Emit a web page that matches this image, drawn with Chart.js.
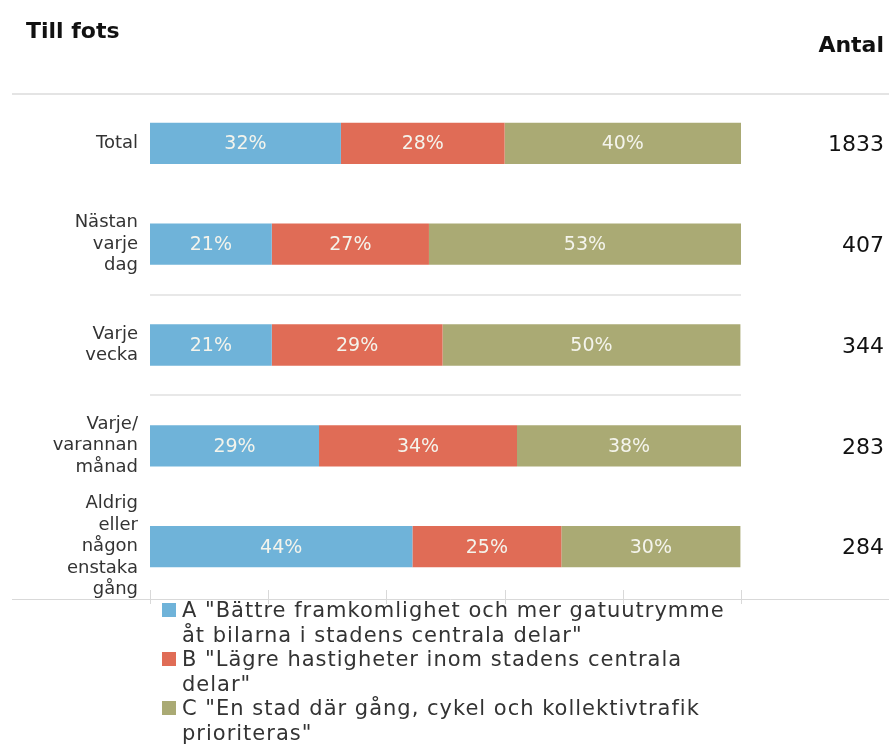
<!DOCTYPE html>
<html>
<head>
<meta charset="utf-8">
<script src="https://cdn.jsdelivr.net/npm/chart.js@4/dist/chart.umd.min.js"></script>
<style>
  body { margin: 0; background: #fff; font-family: "DejaVu Sans", sans-serif; }
  #wrap { position: relative; width: 889px; height: 747px; }
  #legend { position: absolute; left: 162px; top: 598px; color: #333; font-size: 21px; line-height: 24.5px; letter-spacing: 1px; }
  .item { display: flex; align-items: flex-start; }
  .sw { width: 14px; height: 14px; margin: 5px 6px 0 0; flex: none; }
  .txt { white-space: nowrap; }
</style>
</head>
<body>
<div id="wrap">
  <canvas id="myChart" width="889" height="747"></canvas>
  <div id="legend"></div>
</div>
<script>
const categories = [
    'Total',
    ['Nästan', 'varje', 'dag'],
    ['Varje', 'vecka'],
    ['Varje/', 'varannan', 'månad'],
    ['Aldrig', 'eller', 'någon', 'enstaka', 'gång']
];
const seriesA = [32.3, 20.6, 20.6, 28.6, 44.4];
const seriesB = [27.7, 26.6, 28.9, 33.5, 25.2];
const seriesC = [40.0, 52.8, 50.4, 37.9, 30.3];
const antal = [1833, 407, 344, 283, 284];
const seriesNames = [
    ['A "Bättre framkomlighet och mer gatuutrymme', 'åt bilarna i stadens centrala delar"'],
    ['B "Lägre hastigheter inom stadens centrala', 'delar"'],
    ['C "En stad där gång, cykel och kollektivtrafik', 'prioriteras"']
];
const colors = ['#6fb3d9', '#e06c56', '#aaaa74'];

const extras = {
    id: 'extras',
    afterDraw(chart) {
        const c = chart.ctx;
        const x = chart.scales.x;
        const y = chart.scales.y;
        c.save();
        // titles
        c.fillStyle = '#111';
        c.font = 'bold 22px "DejaVu Sans"';
        c.textBaseline = 'alphabetic';
        c.textAlign = 'left';
        c.fillText('Till fots', 26, 38);
        c.textAlign = 'right';
        c.fillText('Antal', 884, 52);
        // full width lines
        c.strokeStyle = '#e4e4e4';
        c.lineWidth = 2;
        c.beginPath(); c.moveTo(12, 94); c.lineTo(889, 94); c.stroke();
        c.strokeStyle = '#d9d9d9';
        c.lineWidth = 1;
        c.beginPath(); c.moveTo(12, 599.5); c.lineTo(889, 599.5); c.stroke();
        // x tick marks
        x.ticks.forEach(t => {
            const px = Math.round(x.getPixelForValue(t.value)) + 0.5;
            c.beginPath(); c.moveTo(px, 590); c.lineTo(px, 604); c.stroke();
        });
        // segment labels
        c.font = '19px "DejaVu Sans"';
        c.fillStyle = '#f4f4ec';
        c.textAlign = 'center';
        c.textBaseline = 'middle';
        chart.data.datasets.forEach((ds, i) => {
            chart.getDatasetMeta(i).data.forEach((bar, j) => {
                const cx = (bar.x + bar.base) / 2;
                c.fillText(Math.round(ds.data[j]) + '%', cx, bar.y + 1);
            });
        });
        // antal
        c.font = '22px "DejaVu Sans"';
        c.fillStyle = '#111';
        c.textAlign = 'right';
        antal.forEach((n, j) => {
            c.fillText(String(n), 884, y.getPixelForValue(j) + 2);
        });
        c.restore();
    }
};

const ctx = document.getElementById('myChart').getContext('2d');
const myChart = new Chart(ctx, {
    type: 'bar',
    data: {
        labels: categories,
        datasets: [
            { label: seriesNames[0].join(' '), data: seriesA, backgroundColor: colors[0] },
            { label: seriesNames[1].join(' '), data: seriesB, backgroundColor: colors[1] },
            { label: seriesNames[2].join(' '), data: seriesC, backgroundColor: colors[2] }
        ]
    },
    options: {
        indexAxis: 'y',
        responsive: false,
        animation: false,
        barPercentage: 0.82,
        categoryPercentage: 0.5,
        layout: { padding: { left: 0, right: 148, top: 93, bottom: 150 } },
        plugins: { legend: { display: false }, tooltip: { enabled: false } },
        scales: {
            x: {
                stacked: true,
                display: false,
                min: 0,
                max: 100,
                ticks: { stepSize: 20 }
            },
            y: {
                stacked: true,
                border: { display: false },
                afterFit(scale) { scale.width = 150; },
                grid: {
                    offset: true,
                    drawTicks: false,
                    color: (c) => (c.index === 2 || c.index === 3) ? '#e8e8e8' : 'rgba(0,0,0,0)',
                    lineWidth: 2
                },
                ticks: {
                    autoSkip: false,
                    color: '#333',
                    padding: 12,
                    font: { family: '"DejaVu Sans"', size: 18, lineHeight: 1.2 }
                }
            }
        }
    },
    plugins: [extras]
});

const legend = document.getElementById('legend');
seriesNames.forEach((lines, i) => {
    const item = document.createElement('div');
    item.className = 'item';
    const sw = document.createElement('span');
    sw.className = 'sw';
    sw.style.background = colors[i];
    const txt = document.createElement('span');
    txt.className = 'txt';
    txt.innerHTML = lines.join('<br>');
    item.appendChild(sw);
    item.appendChild(txt);
    legend.appendChild(item);
});
</script>
</body>
</html>
